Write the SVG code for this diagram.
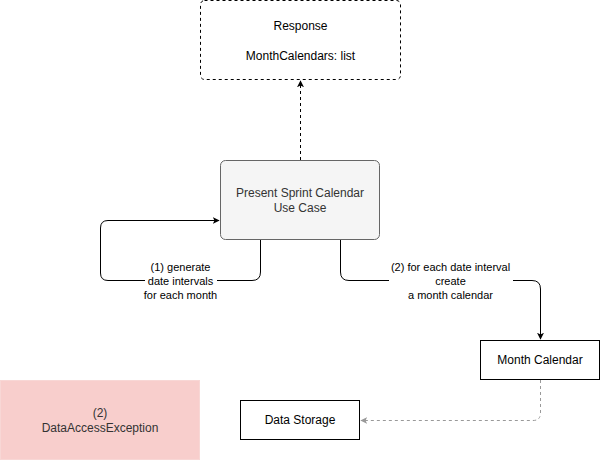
<svg xmlns="http://www.w3.org/2000/svg" width="601" height="461" viewBox="0 0 601 461">
<style>
text{font-family:"Liberation Sans",Arial,sans-serif;font-size:12px;fill:#000;text-anchor:middle}
.lbl{font-size:11px}
.box{fill:#fff;stroke:#000;stroke-width:1}
.edge{fill:none;stroke:#000;stroke-width:1}
.gray{stroke:#999}
</style>
<defs>
<marker id="arr" viewBox="0 0 10 10" refX="9" refY="5" markerWidth="7" markerHeight="7" orient="auto" markerUnits="userSpaceOnUse"><path d="M0,0 L10,5 L0,10 L2.5,5 Z" fill="#000"/></marker>
<marker id="arrg" viewBox="0 0 10 10" refX="9" refY="5" markerWidth="7" markerHeight="7" orient="auto" markerUnits="userSpaceOnUse"><path d="M0,0 L10,5 L0,10 L2.5,5 Z" fill="#999"/></marker>
</defs>
<g id="connectors">
<path class="edge" d="M300.5,160 V81" stroke-dasharray="3,3" marker-end="url(#arr)"/>
<path class="edge" d="M260.5,240 V272 Q260.5,280.5 252,280.5 H108 Q100.5,280.5 100.5,273 V228 Q100.5,220.5 108,220.5 H219" marker-end="url(#arr)"/>
<path class="edge" d="M340.5,240 V272 Q340.5,280.5 349,280.5 H532 Q540.5,280.5 540.5,289 V339" marker-end="url(#arr)"/>
<path class="edge gray" d="M540.5,380 V413 Q540.5,420.5 533,420.5 H361" stroke-dasharray="3,3" marker-end="url(#arrg)"/>
</g>
<g id="labels">
<rect x="145" y="260" width="72" height="40" fill="#fff"/>
<text class="lbl" x="180.5" y="271">(1) generate</text>
<text class="lbl" x="180.5" y="285">date intervals</text>
<text class="lbl" x="180.5" y="299">for each month</text>
<rect x="389" y="260" width="124" height="40" fill="#fff"/>
<text class="lbl" x="450.5" y="271">(2) for each date interval</text>
<text class="lbl" x="450.5" y="285">create</text>
<text class="lbl" x="450.5" y="299">a month calendar</text>
</g>
<g id="response">
<rect x="200.5" y="0.5" width="200" height="79" rx="4" fill="#fff" stroke="#000" stroke-dasharray="3,3"/>
<text x="300.5" y="30">Response</text>
<text x="300.5" y="60">MonthCalendars: list</text>
</g>
<g id="usecase">
<rect x="220.5" y="160.5" width="159" height="79" rx="5" fill="#f5f5f5" stroke="#666"/>
<text x="300" y="197" style="fill:#333">Present Sprint Calendar</text>
<text x="300" y="212" style="fill:#333">Use Case</text>
</g>
<g id="monthcalendar">
<rect class="box" x="480.5" y="340.5" width="119" height="39"/>
<text x="540" y="364">Month Calendar</text>
</g>
<g id="datastorage">
<rect class="box" x="240.5" y="400.5" width="119" height="39"/>
<text x="300" y="424">Data Storage</text>
</g>
<g id="exception">
<rect x="0.5" y="380.5" width="199" height="79" fill="#f8cecc" stroke="#f8d7d5"/>
<text x="100" y="417" style="fill:#333">(2)</text>
<text x="100" y="432" style="fill:#333">DataAccessException</text>
</g>
</svg>
